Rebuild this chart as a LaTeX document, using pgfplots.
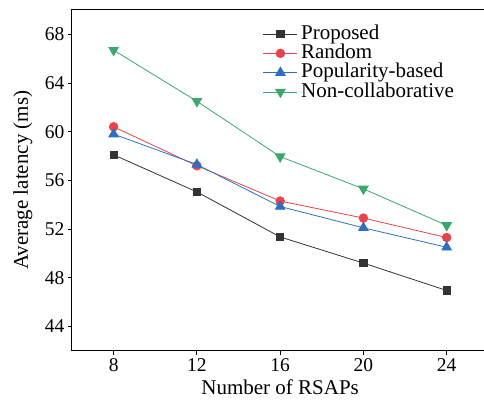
\documentclass[border=0pt]{standalone}
\usepackage{fontspec}
\setmainfont{Liberation Serif}
\usepackage{pgfplots}
\pgfplotsset{compat=1.18}
\definecolor{cblack}{HTML}{333333}
\definecolor{cred}{HTML}{E8434A}
\definecolor{cblue}{HTML}{2E6FC0}
\definecolor{cgreen}{HTML}{3BA76C}
\begin{document}
\begin{tikzpicture}
\begin{axis}[
  scale only axis,
  width=416.3pt, height=340.7pt,
  xmin=6, xmax=26, ymin=42, ymax=70,
  xtick={8,12,16,20,24},
  ytick={44,48,52,56,60,64,68},
  xtick pos=bottom, ytick pos=left,
  tick align=outside,
  major tick length=4pt,
  tick style={line width=0.8pt, color=black},
  axis line style={line width=1pt},
  /pgf/number format/assume math mode=true,
  tick label style={font=\fontsize{19.5}{22}\selectfont},
  label style={font=\fontsize{21}{24}\selectfont},
  xlabel={Number of RSAPs},
  ylabel={Average latency (ms)},
  xlabel style={at={(axis description cs:0.5,-0.1300)}, anchor=base, inner sep=0pt},
  ylabel style={at={(axis description cs:-0.1057,0.5)}, anchor=base},
  legend style={at={(axis description cs:0.456,0.961)}, anchor=north west, draw=none, fill=none,
    font=\fontsize{21}{24}\selectfont, row sep=0.2pt, inner sep=1pt,
    nodes={text height=14.5pt, text depth=4pt, inner sep=0.3pt},
    /tikz/every odd column/.append style={column sep=3pt}},
  legend cell align=left,
  legend image code/.code={\draw[mark repeat=2,mark phase=2] plot coordinates {(0pt,0pt) (17pt,0pt) (34pt,0pt)};},
  every axis plot/.append style={line width=0.8pt},
]
\addplot[color=cblack, mark=square*, mark size=3.6pt, mark options={fill=cblack}] coordinates {
  (8,58.1) (12,55.05) (16,51.35) (20,49.2) (24,46.95)};
\addlegendentry{Proposed}
\addplot[color=cred, mark=*, mark size=4.3pt, mark options={fill=cred}] coordinates {
  (8,60.4) (12,57.2) (16,54.3) (20,52.9) (24,51.3)};
\addlegendentry{Random}
\addplot[color=cblue, mark=triangle*, mark size=5.5pt, mark options={fill=cblue}] coordinates {
  (8,59.8) (12,57.3) (16,53.85) (20,52.1) (24,50.5)};
\addlegendentry{Popularity-based}
\addplot[color=cgreen, mark=triangle*, mark size=5.5pt, mark options={fill=cgreen, rotate=180}] coordinates {
  (8,66.7) (12,62.5) (16,57.95) (20,55.3) (24,52.3)};
\addlegendentry{Non-collaborative}
\end{axis}
\pgfresetboundingbox
\path (current axis.south west) ++(-72pt,-48.3pt) coordinate (bbsw);
\path (current axis.north west) ++(412pt,10pt) coordinate (bbne);
\useasboundingbox (bbsw) rectangle (bbne);
\end{tikzpicture}
\end{document}
